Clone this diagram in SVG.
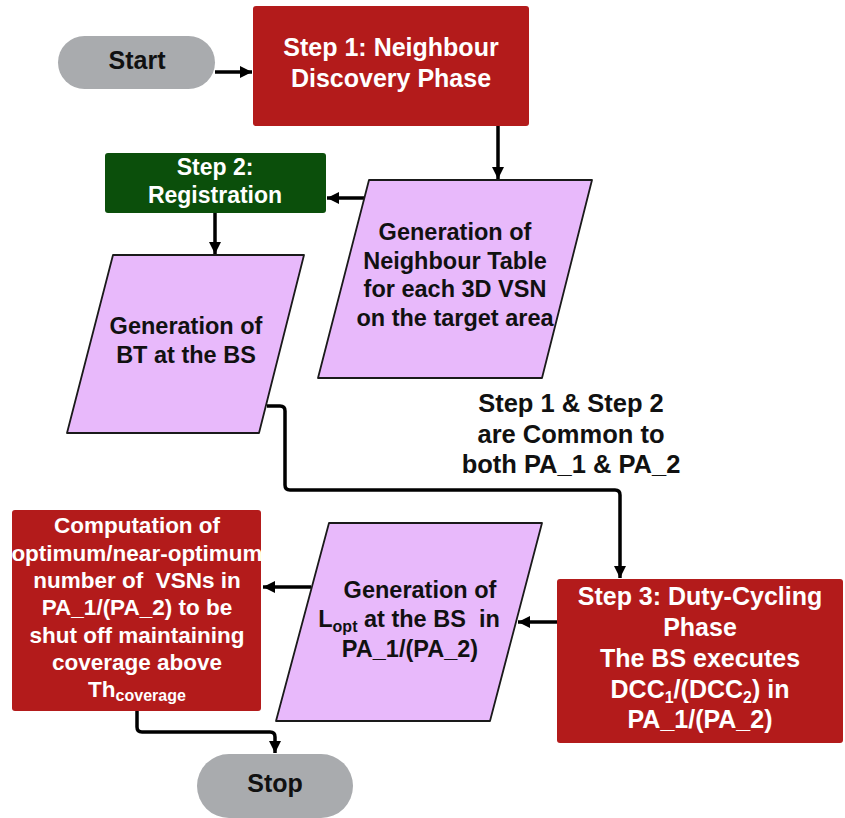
<svg xmlns="http://www.w3.org/2000/svg" width="845" height="818" viewBox="0 0 845 818">
<style>
text{font-family:"Liberation Sans",Arial,sans-serif;font-weight:bold;text-anchor:middle;white-space:pre}
.w{fill:#ffffff;font-size:22.5px}
.k{fill:#111111;font-size:23.5px}
.red{fill:#b31b1b}
.grn{fill:#0b4f0b}
.pill{fill:#a9abae}
.par{fill:#e8b9fb;stroke:#1a1a1a;stroke-width:1.8;stroke-linejoin:round}
.c{fill:none;stroke:#000;stroke-width:3.5;stroke-linejoin:round}
.sub{font-size:16px}
.big{font-size:25px}
</style>
<defs>
<marker id="ah" markerUnits="userSpaceOnUse" markerWidth="14" markerHeight="14" refX="12" refY="6" orient="auto">
<path d="M0,0 L12,6 L0,12 Z" fill="#000"/>
</marker>
</defs>
<rect width="845" height="818" fill="#ffffff"/>
<g id="connectors">
<path class="c" d="M215,72 H252" marker-end="url(#ah)"/>
<path class="c" d="M498,126 V179" marker-end="url(#ah)"/>
<path class="c" d="M364,198 H327" marker-end="url(#ah)"/>
<path class="c" d="M215,213 V254" marker-end="url(#ah)"/>
<path class="c" d="M267,406 H280 Q285,406 285,411 V485 Q285,490 290,490 H615 Q620,490 620,495 V578" marker-end="url(#ah)"/>
<path class="c" d="M557,622 H518" marker-end="url(#ah)"/>
<path class="c" d="M311,587 H263" marker-end="url(#ah)"/>
<path class="c" d="M137,711 V727 Q137,732 142,732 H270 Q275,732 275,737 V753" marker-end="url(#ah)"/>
</g>
<g id="start">
<rect class="pill" x="58" y="36" width="157" height="53" rx="26.5"/>
<text class="k big" x="137" y="69">Start</text>
</g>
<g id="step1">
<rect class="red" x="253" y="6" width="276" height="120" rx="3"/>
<text class="w big" x="391" y="56">Step 1: Neighbour</text>
<text class="w big" x="391" y="87">Discovery Phase</text>
</g>
<g id="step2">
<rect class="grn" x="105" y="153" width="221" height="60" rx="3"/>
<text class="w" x="215" y="175" style="font-size:23px">Step 2:</text>
<text class="w" x="215" y="203" style="font-size:23px">Registration</text>
</g>
<g id="neighbour-table">
<path class="par" d="M369,180 H592 L542,378 H318 Z"/>
<text class="k" x="455" y="240">Generation of</text>
<text class="k" x="455" y="269">Neighbour Table</text>
<text class="k" x="455" y="297">for each 3D VSN</text>
<text class="k" x="455" y="326">on the target area</text>
</g>
<g id="bt">
<path class="par" d="M113,255 H304 L259,433 H67 Z"/>
<text class="k" x="186" y="334">Generation of</text>
<text class="k" x="186" y="363">BT at the BS</text>
</g>
<g id="note">
<text class="k big" x="571" y="412" style="font-size:25.5px">Step 1 &amp; Step 2</text>
<text class="k big" x="571" y="443" style="font-size:25.5px">are Common to</text>
<text class="k big" x="571" y="473" style="font-size:25.5px">both PA_1 &amp; PA_2</text>
</g>
<g id="step3">
<rect class="red" x="557" y="579" width="286" height="164" rx="3"/>
<text class="w big" x="700" y="605">Step 3: Duty-Cycling</text>
<text class="w big" x="700" y="636">Phase</text>
<text class="w big" x="700" y="667">The BS executes</text>
<text class="w big" x="700" y="698">DCC<tspan class="sub" dy="5">1</tspan><tspan dy="-5">/(DCC</tspan><tspan class="sub" dy="5">2</tspan><tspan dy="-5">) in</tspan></text>
<text class="w big" x="700" y="728">PA_1/(PA_2)</text>
</g>
<g id="lopt">
<path class="par" d="M329,523 H542 L490,721 H276 Z"/>
<text class="k" x="420" y="598">Generation of</text>
<text class="k" x="409" y="627">L<tspan class="sub" dy="5">opt</tspan><tspan dy="-5"> at the BS  in</tspan></text>
<text class="k" x="410" y="657">PA_1/(PA_2)</text>
</g>
<g id="computation">
<rect class="red" x="12" y="510" width="249" height="201" rx="3"/>
<text class="w" x="137" y="533">Computation of</text>
<text class="w" x="137" y="561">optimum/near-optimum</text>
<text class="w" x="137" y="588">number of  VSNs in</text>
<text class="w" x="137" y="615">PA_1/(PA_2) to be</text>
<text class="w" x="137" y="643">shut off maintaining</text>
<text class="w" x="137" y="670">coverage above</text>
<text class="w" x="137" y="697">Th<tspan class="sub" dy="4">coverage</tspan></text>
</g>
<g id="stop">
<rect class="pill" x="197" y="754" width="156" height="64" rx="32"/>
<text class="k big" x="275" y="792">Stop</text>
</g>
</svg>
